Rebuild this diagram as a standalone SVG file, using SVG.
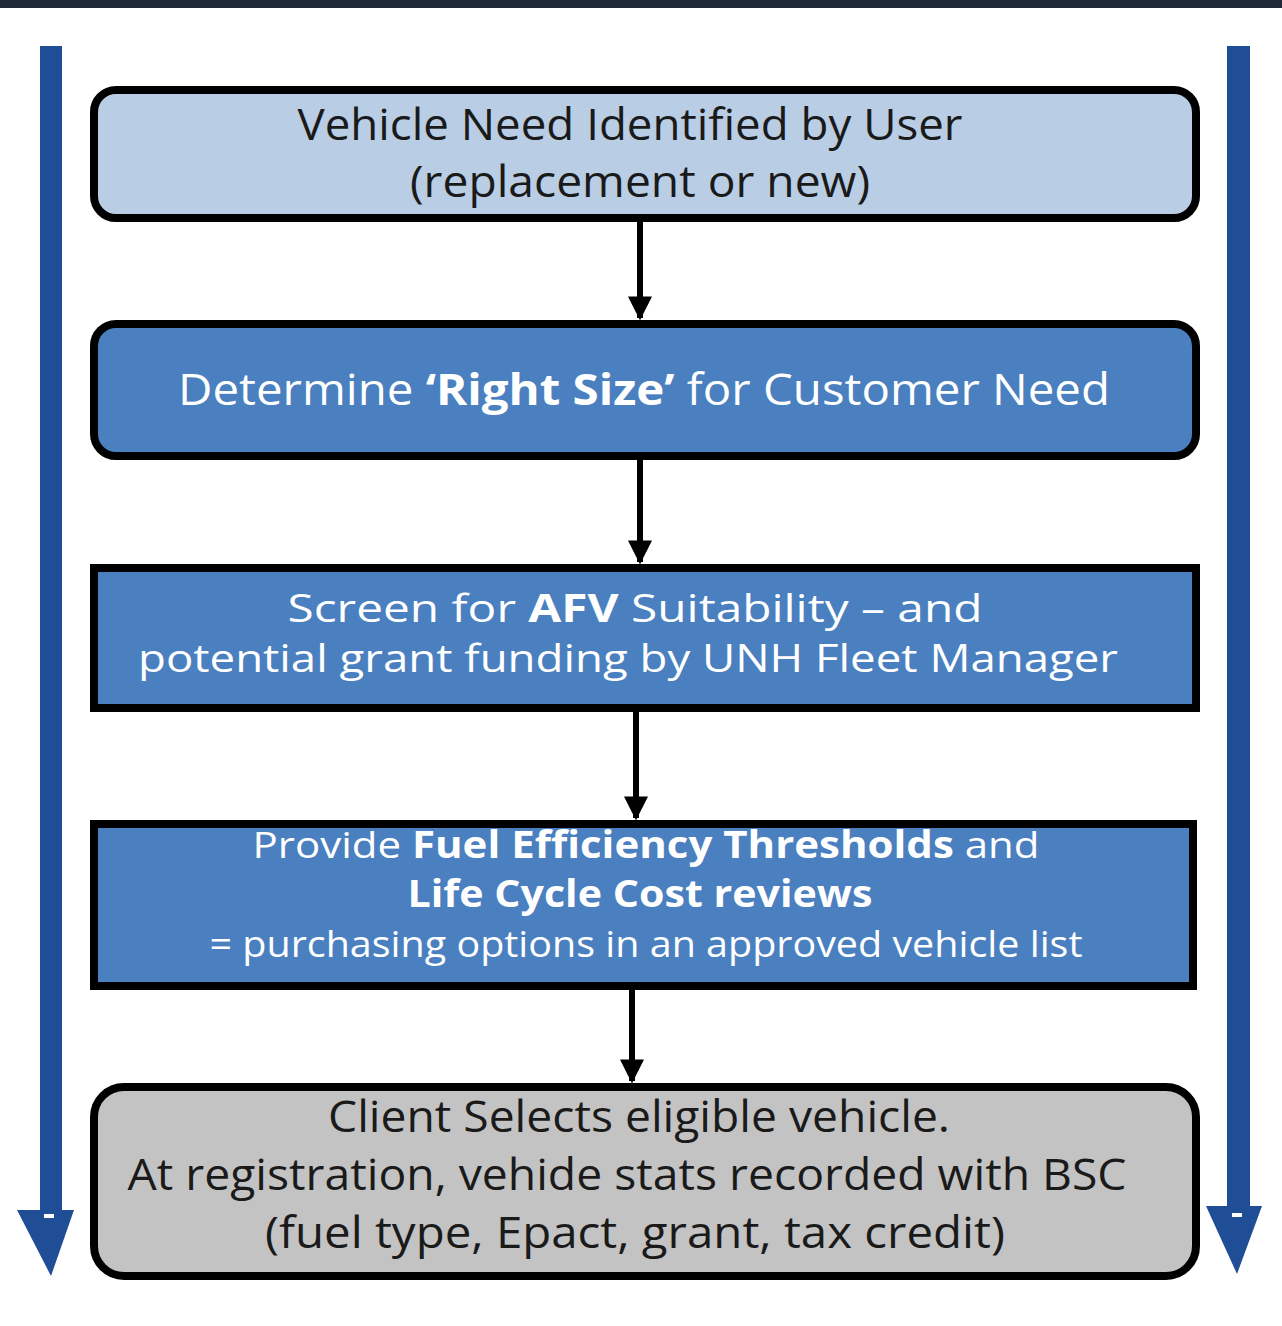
<svg xmlns="http://www.w3.org/2000/svg" width="1282" height="1326" viewBox="0 0 1282 1326">
<defs>
<style>
.box{stroke:#000;stroke-width:8}
.t{font-family:"Open Sans","DejaVu Sans",sans-serif;text-anchor:middle}
.dark{fill:#1a1a1a}
.w{fill:#fff}
.b{font-weight:bold}
.conn{stroke:#000;stroke-width:6;fill:none}
.side{fill:#1f4e96}
</style>
<marker id="ah" viewBox="0 0 10 10" refX="9" refY="5" markerWidth="4" markerHeight="4" markerUnits="strokeWidth" orient="auto">
<path d="M0,0 L10,5 L0,10 z" fill="#000"/>
</marker>
</defs>
<rect width="1282" height="1326" fill="#fff"/>
<rect width="1282" height="8" fill="#1f2836"/>
<g id="side-arrows">
<path class="side" d="M40,46 H62 V1210 H74 L51,1276 L17,1210 H40 z"/>
<rect x="44" y="1214" width="10" height="4" fill="#fff"/>
<path class="side" d="M1227,46 H1250 V1206 H1262 L1237,1274 L1206,1206 H1227 z"/>
<rect x="1232" y="1213" width="10" height="4" fill="#fff"/>
</g>
<g id="connectors">
<line class="conn" x1="640" y1="222" x2="640" y2="318" marker-end="url(#ah)"/>
<line class="conn" x1="640" y1="460" x2="640" y2="562" marker-end="url(#ah)"/>
<line class="conn" x1="636" y1="712" x2="636" y2="818" marker-end="url(#ah)"/>
<line class="conn" x1="632" y1="990" x2="632" y2="1081" marker-end="url(#ah)"/>
</g>
<g id="n1">
<rect class="box" x="94" y="90" width="1102" height="128" rx="22" fill="#b9cde5"/>
<text class="t dark" x="630" y="140" font-size="44" textLength="665" lengthAdjust="spacingAndGlyphs">Vehicle Need Identified by User</text>
<text class="t dark" x="640" y="197" font-size="44" textLength="460" lengthAdjust="spacingAndGlyphs">(replacement or new)</text>
</g>
<g id="n2">
<rect class="box" x="94" y="324" width="1102" height="132" rx="22" fill="#4a7fc0"/>
<text class="t w" x="644" y="405" font-size="43" textLength="932" lengthAdjust="spacingAndGlyphs">Determine <tspan class="b">‘Right Size’</tspan> for  Customer Need</text>
</g>
<g id="n3">
<rect class="box" x="94" y="568" width="1102" height="140" fill="#4a7fc0"/>
<text class="t w" x="635" y="622" font-size="39" textLength="695" lengthAdjust="spacingAndGlyphs">Screen for <tspan class="b">AFV</tspan> Suitability – and</text>
<text class="t w" x="628" y="672" font-size="39" textLength="980" lengthAdjust="spacingAndGlyphs">potential grant funding by  UNH Fleet Manager</text>
</g>
<g id="n4">
<rect class="box" x="94" y="824" width="1099" height="162" fill="#4a7fc0"/>
<text class="t w" x="646" y="858" font-size="37" textLength="787" lengthAdjust="spacingAndGlyphs">Provide  <tspan class="b">Fuel Efficiency  Thresholds</tspan>    and</text>
<text class="t w b" x="640" y="907" font-size="37" textLength="465" lengthAdjust="spacingAndGlyphs">Life Cycle Cost  reviews</text>
<text class="t w" x="646" y="957" font-size="37" textLength="873" lengthAdjust="spacingAndGlyphs">= purchasing options in an approved vehicle list</text>
</g>
<g id="n5">
<rect class="box" x="94" y="1087" width="1102" height="189" rx="30" fill="#c3c3c3"/>
<text class="t dark" x="639" y="1132" font-size="44" textLength="622" lengthAdjust="spacingAndGlyphs">Client Selects eligible vehicle.</text>
<text class="t dark" x="627" y="1190" font-size="44" textLength="999" lengthAdjust="spacingAndGlyphs">At registration, vehide stats recorded with BSC</text>
<text class="t dark" x="635" y="1248" font-size="44" textLength="740" lengthAdjust="spacingAndGlyphs">(fuel type, Epact, grant, tax credit)</text>
</g>
</svg>
